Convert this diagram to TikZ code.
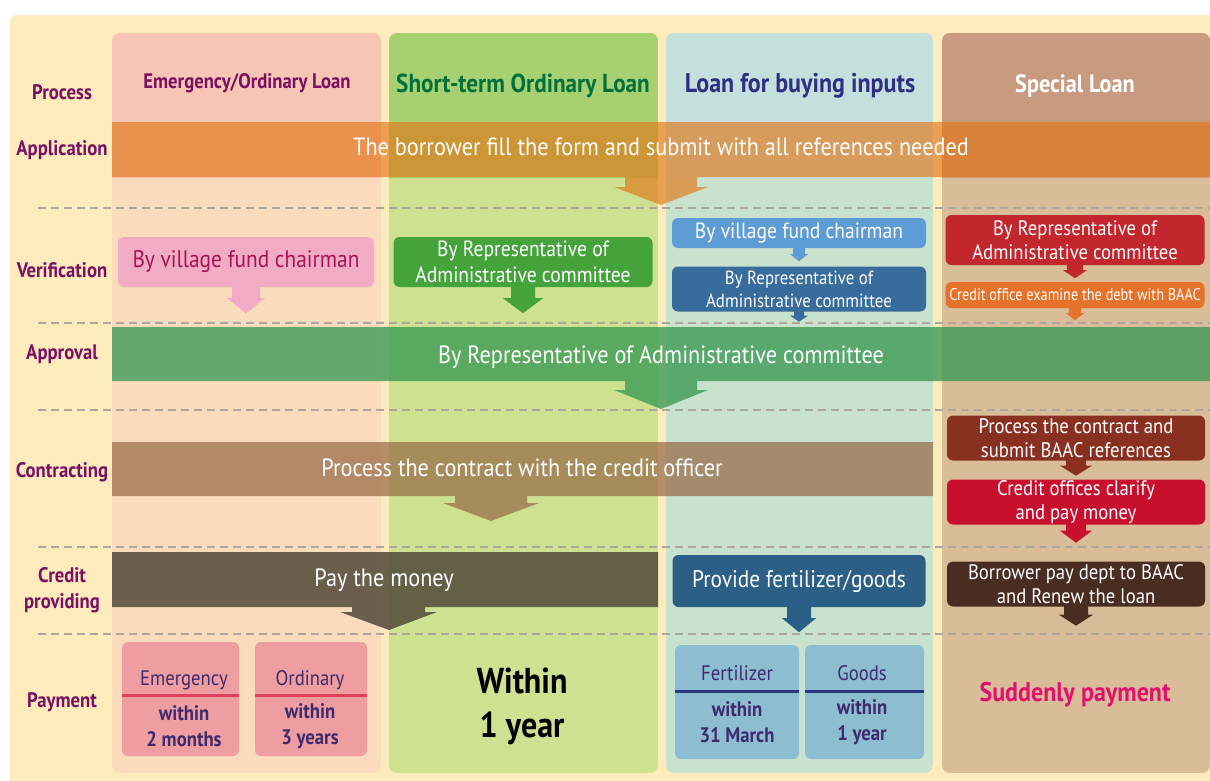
\documentclass[tikz,border=0pt]{standalone}
\usepackage{fontspec}
\setmainfont{PT Sans}[FakeStretch=0.89]
\newfontfamily\narrowfont{PT Sans}[FakeStretch=0.84]
\usetikzlibrary{calc}
\newcommand\fsz[2]{\fontsize{#1}{#2}\selectfont}
\definecolor{cream}{HTML}{FDEBBC}
\definecolor{c1h}{HTML}{F7C5B3}\definecolor{c1l}{HTML}{FADBBB}
\definecolor{c2h}{HTML}{A7D070}\definecolor{c2l}{HTML}{CDE190}
\definecolor{c3h}{HTML}{C5DFDC}\definecolor{c3l}{HTML}{C8E2CE}
\definecolor{c4h}{HTML}{C89B80}\definecolor{c4l}{HTML}{D9BD99}
\definecolor{labpurple}{HTML}{7A0F63}
\definecolor{hgreen}{HTML}{00703C}
\definecolor{hnavy}{HTML}{2E2F82}
\definecolor{appor}{HTML}{E27514}
\definecolor{apgreen}{HTML}{3A9A55}
\definecolor{contbr}{HTML}{966745}
\definecolor{credk}{HTML}{514A3A}
\definecolor{pinkbox}{HTML}{F2ABC5}
\definecolor{pinktext}{HTML}{A61456}
\definecolor{greenbox}{HTML}{45A33B}
\definecolor{ltblue}{HTML}{5E9CD6}
\definecolor{dkblue}{HTML}{386C9C}
\definecolor{redbox}{HTML}{C1272D}
\definecolor{orbox}{HTML}{E57228}
\definecolor{brred}{HTML}{8A3020}
\definecolor{crimson}{HTML}{C8102E}
\definecolor{provblue}{HTML}{2C5F85}
\definecolor{dkbrown}{HTML}{4A2D22}
\definecolor{paypink}{HTML}{EE9EA0}
\definecolor{payred}{HTML}{E0405A}
\definecolor{paytext}{HTML}{3F2A6E}
\definecolor{payblue}{HTML}{8CBDD1}
\definecolor{paynavy}{HTML}{2B3A7E}
\definecolor{sudden}{HTML}{E0116F}
\definecolor{dashgray}{HTML}{ACA69C}
\newcommand\lanecol[4]{%
  \begin{scope}
    \clip[rounded corners=8pt] (#1,33) rectangle (#2,773);
    \fill[#4] (#1,33) rectangle (#2,773);
    \fill[#3] (#1,33) rectangle (#2,178);
  \end{scope}}
\newcommand\tipdown[6]{%
  \fill[#2] ($(#1.south)+(-#3,-2)$) -- ($(#1.south)+(-#3,#5)$) -- ($(#1.south)+(-#4,#5)$)
    -- ($(#1.south)+(0,#6)$) -- ($(#1.south)+(#4,#5)$) -- ($(#1.south)+(#3,#5)$)
    -- ($(#1.south)+(#3,-2)$) -- cycle;}
\begin{document}
\begin{tikzpicture}[x=1pt,y=-1pt,
  rowlabel/.style={text=labpurple, align=center, font=\bfseries\fsz{21}{26}},
  bartext/.style={text=white, font=\fsz{25}{29}},
  colhead/.style={font=\bfseries\fsz{26}{30}},
  stepbox/.style={rounded corners=6pt, inner sep=0pt, align=center, text=white},
  paybox/.style={rounded corners=6pt, inner sep=0pt},
  paytxt/.style={text=paytext, align=center},
  sep/.style={dashgray, line width=2pt, dash pattern=on 8pt off 5pt}]
\useasboundingbox (0,0) rectangle (1210,780);
\fill[white] (0,0) rectangle (1210,780);
\fill[cream, rounded corners=6pt] (10,15) rectangle (1216,786);
% columns
\lanecol{112}{381}{c1h}{c1l}
\lanecol{389}{658}{c2h}{c2l}
\lanecol{666}{933}{c3h}{c3l}
\lanecol{942}{1210}{c4h}{c4l}
% separators
\foreach \yy in {208,323,410,547,634} \draw[sep] (38,\yy) -- (1210,\yy);
% column headers
\node[colhead, text=labpurple, font=\bfseries\fsz{21}{25}] (h1) at (247,83) {Emergency/Ordinary Loan};
\node[colhead, text=hgreen] (h2) at (523,86) {Short-term Ordinary Loan};
\node[colhead, text=hnavy, font=\bfseries\fsz{27}{30}] (h3) at (800,86) {Loan for buying inputs};
\node[colhead, text=white, font=\bfseries\fsz{25}{30}] (h4) at (1075,86) {Special Loan};
% row labels
\node[rowlabel] (lp) at (62,92) {Process};
\node[rowlabel] (la) at (62,150) {Application};
\node[rowlabel] (lv) at (62,270) {Verification};
\node[rowlabel] (lap) at (62,354) {Approval};
\node[rowlabel] (lc) at (62,472) {Contracting};
\node[rowlabel] (lcp) at (62,590) {Credit\\providing};
\node[rowlabel] (lpay) at (62,702) {Payment};
% application bar
\fill[appor, fill opacity=0.64] (112,122) -- (1210,122) -- (1210,177) -- (697,177) -- (697,187)
  -- (708,187) -- (661,205) -- (614,187) -- (625,187) -- (625,177) -- (112,177) -- cycle;
\node[bartext] (app) at (661,147) {The borrower fill the form and submit with all references needed};
% verification boxes
\node[stepbox, fill=pinkbox, text=pinktext, minimum width=256pt, minimum height=50pt, font=\fsz{24}{28}] (v1) at (246,262) {By village fund chairman};
\tipdown{v1}{pinkbox}{14}{19}{11}{26}
\node[stepbox, fill=greenbox, minimum width=259pt, minimum height=50pt, font=\fsz{22}{26}] (v2) at (523,262) {By Representative of\\Administrative committee};
\tipdown{v2}{greenbox}{12}{20}{11}{26}
\node[stepbox, fill=ltblue, minimum width=254pt, minimum height=30pt, font=\fsz{22}{26}] (v3a) at (799,233) {By village fund chairman};
\tipdown{v3a}{ltblue}{6}{9}{6}{13}
\node[stepbox, fill=dkblue, minimum width=254pt, minimum height=45pt, font=\fsz{19}{23}] (v3b) at (799,289) {By Representative of\\Administrative committee};
\tipdown{v3b}{dkblue}{5}{9}{4}{10}
\node[stepbox, fill=redbox, minimum width=259pt, minimum height=50pt, font=\fsz{21}{24}] (v4a) at (1075,240) {By Representative of\\Administrative committee};
\tipdown{v4a}{redbox}{8}{12}{5}{13}
\node[stepbox, fill=orbox, minimum width=259pt, minimum height=26pt, font=\narrowfont\fsz{17}{20}] (v4b) at (1075,295) {Credit office examine the debt with BAAC};
\tipdown{v4b}{orbox}{6}{9}{5}{12}
% approval bar
\fill[apgreen, fill opacity=0.78] (112,327) -- (1210,327) -- (1210,381) -- (697,381) -- (697,390)
  -- (708,390) -- (661,409) -- (614,390) -- (625,390) -- (625,381) -- (112,381) -- cycle;
\node[bartext] (apr) at (661,357) {By Representative of Administrative committee};
% contracting bar
\fill[contbr, fill opacity=0.7] (112,442) -- (933,442) -- (933,496) -- (527,496) -- (527,503)
  -- (539,503) -- (491,521) -- (443,503) -- (455,503) -- (455,496) -- (112,496) -- cycle;
\node[bartext] (con) at (522,468) {Process the contract with the credit officer};
\node[stepbox, fill=brred, minimum width=258pt, minimum height=45pt, font=\fsz{21}{24}] (c4a) at (1076,438) {Process the contract and\\submit BAAC references};
\tipdown{c4a}{brred}{10}{16}{5}{15}
\node[stepbox, fill=crimson, minimum width=258pt, minimum height=45pt, font=\fsz{21}{24}] (c4b) at (1076,502) {Credit offices clarify\\and pay money};
\tipdown{c4b}{crimson}{10}{16}{6}{18}
% credit providing bar
\fill[credk, fill opacity=0.85] (112,552) -- (658,552) -- (658,607) -- (425,607) -- (425,612)
  -- (437,612) -- (389,630) -- (340,612) -- (352,612) -- (352,607) -- (112,607) -- cycle;
\node[bartext] (pay) at (384,580) {Pay the money};
\node[stepbox, fill=provblue, minimum width=253pt, minimum height=52pt, font=\fsz{24}{28}] (p3) at (799,581) {Provide fertilizer/goods};
\tipdown{p3}{provblue}{12}{17}{11}{25}
\node[stepbox, fill=dkbrown, minimum width=258pt, minimum height=45pt, font=\fsz{21}{24}] (p4) at (1076,584) {Borrower pay dept to BAAC\\and Renew the loan};
\tipdown{p4}{dkbrown}{12}{17}{8}{19}
% payment
\node[paybox, fill=paypink, minimum width=117pt, minimum height=114pt] (e1) at (180.5,699) {};
\node[paybox, fill=paypink, minimum width=112pt, minimum height=114pt] (o1) at (311,699) {};
\draw[payred, line width=3pt] ([yshift=4pt]e1.west) -- ([yshift=4pt]e1.east);
\draw[payred, line width=3pt] ([yshift=4pt]o1.west) -- ([yshift=4pt]o1.east);
\node[paytxt, font=\fsz{21}{25}] (e1t) at (184,680) {Emergency};
\node[paytxt, font=\bfseries\fsz{21}{26}] (e1w) at (184,726) {within\\2 months};
\node[paytxt, font=\fsz{21}{25}] (o1t) at (310,680) {Ordinary};
\node[paytxt, font=\bfseries\fsz{21}{26}] (o1w) at (310,726) {within\\3 years};
\node[align=center, font=\bfseries\fsz{36}{44}] (w1) at (522,706) {Within\\1 year};
\node[paybox, fill=payblue, minimum width=124pt, minimum height=114pt] (f1) at (737,702) {};
\node[paybox, fill=payblue, minimum width=119pt, minimum height=114pt] (g1) at (864.5,702) {};
\draw[paynavy, line width=3pt] ([yshift=11pt]f1.west) -- ([yshift=11pt]f1.east);
\draw[paynavy, line width=3pt] ([yshift=11pt]g1.west) -- ([yshift=11pt]g1.east);
\node[paytxt, font=\fsz{21}{25}] (f1t) at (737,673) {Fertilizer};
\node[paytxt, font=\bfseries\fsz{21}{26}] (f1w) at (737,722) {within\\31 March};
\node[paytxt, font=\fsz{21}{25}] (g1t) at (862,673) {Goods};
\node[paytxt, font=\bfseries\fsz{21}{26}] (g1w) at (862,722) {within\\1 year};
\node[text=sudden, font=\bfseries\fsz{27}{30}] (sp) at (1075,695) {Suddenly payment};
\end{tikzpicture}
\end{document}
